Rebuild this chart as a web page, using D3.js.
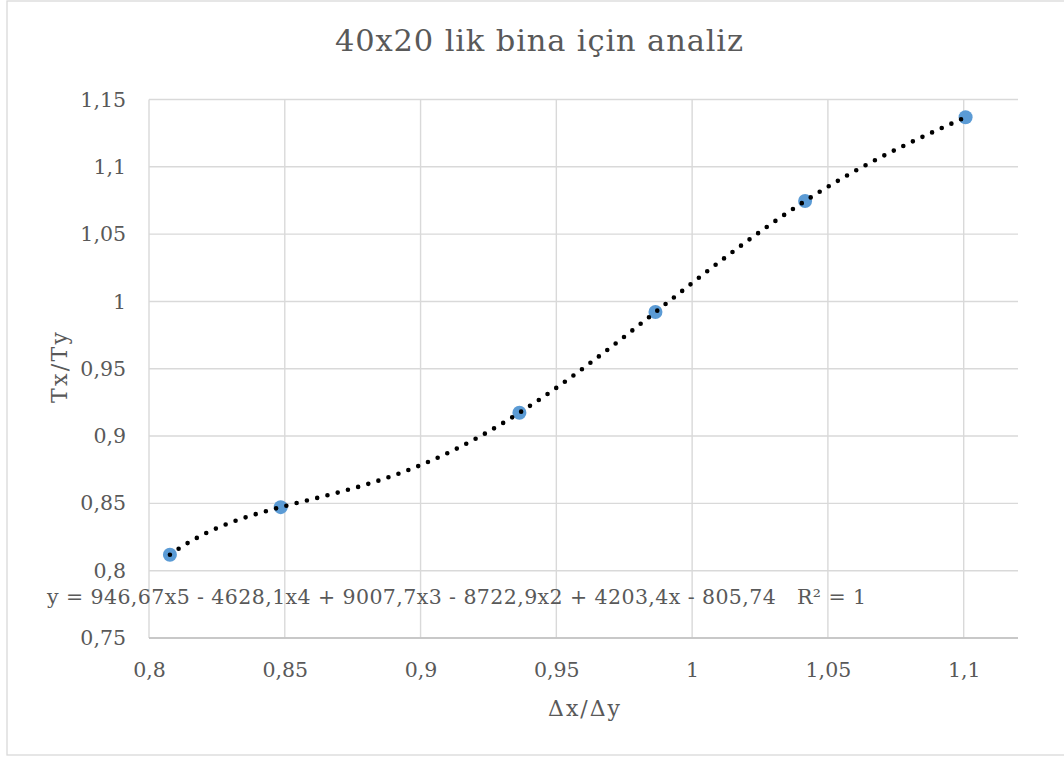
<!DOCTYPE html>
<html><head><meta charset="utf-8">
<script src="https://cdn.jsdelivr.net/npm/d3@7"></script>
<style>body{margin:0;background:#fff}svg{display:block}text{font-family:"DejaVu Serif",serif;fill:#595959}</style>
</head><body><svg id="c" width="1064" height="758"></svg>
<script>
const title = "40x20 lik bina için analiz";
const xTitle = "Δx/Δy";
const yTitle = "Tx/Ty";
const xValues = [0.8077, 0.8485, 0.9364, 0.9865, 1.0416, 1.1007];
const yValues = [0.8118, 0.8472, 0.9173, 0.9921, 1.0746, 1.1368];
const xTicks = [0.8, 0.85, 0.9, 0.95, 1, 1.05, 1.1];
const yTicks = [0.75, 0.8, 0.85, 0.9, 0.95, 1, 1.05, 1.1, 1.15];
const equation = "y = 946,67x5 - 4628,1x4 + 9007,7x3 - 8722,9x2 + 4203,4x - 805,74   R² = 1";

const svg = d3.select("#c");
const L = 149, T = 99.5, W = 869, H = 538.5;
const x = d3.scaleLinear().domain([0.8, 1.12]).range([L, L + W]);
const y = d3.scaleLinear().domain([0.75, 1.15]).range([T + H, T]);
const fmt = d => String(+d.toFixed(2)).replace(".", ",");

svg.append("rect").attr("x", 7).attr("y", 1).attr("width", 1070).attr("height", 754)
  .attr("fill", "#fff").attr("stroke", "#d9d9d9").attr("stroke-width", 1.3);

svg.append("text").attr("x", 335).attr("y", 51)
  .attr("font-size", 30.5).attr("textLength", 408).attr("lengthAdjust", "spacing").text(title);

// grid
const g = svg.append("g");
g.selectAll(".hg").data(yTicks).join("line")
  .attr("x1", L).attr("x2", L + W).attr("y1", d => y(d)).attr("y2", d => y(d))
  .attr("stroke", "#d9d9d9").attr("stroke-width", 1.4);
g.selectAll(".vg").data(xTicks).join("line")
  .attr("x1", d => x(d)).attr("x2", d => x(d)).attr("y1", T).attr("y2", T + H)
  .attr("stroke", "#d9d9d9").attr("stroke-width", 1.4);
svg.append("line").attr("x1", L).attr("x2", L + W).attr("y1", y(0.75)).attr("y2", y(0.75))
  .attr("stroke", "#bfbfbf").attr("stroke-width", 1.4);

// axes labels via d3 axes
const xa = svg.append("g").attr("transform", `translate(0,${T + H})`)
  .call(d3.axisBottom(x).tickValues(xTicks).tickFormat(fmt).tickSize(0).tickPadding(24));
const ya = svg.append("g").attr("transform", `translate(${L},0)`)
  .call(d3.axisLeft(y).tickValues(yTicks).tickFormat(fmt).tickSize(0).tickPadding(23));
[xa, ya].forEach(a => {
  a.select(".domain").remove();
  a.selectAll("text").attr("font-size", 20.5).attr("fill", "#595959").attr("font-family", "DejaVu Serif, serif");
});

svg.append("text").attr("x", 548).attr("y", 716)
  .attr("font-size", 22).attr("textLength", 72).attr("lengthAdjust", "spacing").text(xTitle);
svg.append("text").attr("transform", "translate(67,403) rotate(-90)")
  .attr("font-size", 22).attr("textLength", 71).attr("lengthAdjust", "spacing").text(yTitle);

// markers
svg.selectAll(".pt").data(xValues).join("circle")
  .attr("cx", d => x(d)).attr("cy", (d, i) => y(yValues[i])).attr("r", 7)
  .attr("fill", "#5b9bd5");

// polynomial trendline (degree 5 through the points = Lagrange)
function poly(t) {
  let s = 0;
  for (let i = 0; i < xValues.length; i++) {
    let p = yValues[i];
    for (let j = 0; j < xValues.length; j++) if (j !== i) p *= (t - xValues[j]) / (xValues[i] - xValues[j]);
    s += p;
  }
  return s;
}
const x0 = xValues[0], x1 = xValues[xValues.length - 1];
const samples = d3.range(0, 201).map(k => x0 + (x1 - x0) * k / 200);
svg.append("path").datum(samples)
  .attr("d", d3.line().x(t => x(t)).y(t => y(poly(t))))
  .attr("fill", "none").attr("stroke", "#000").attr("stroke-width", 4.6)
  .attr("stroke-linecap", "round").attr("stroke-dasharray", "0 10.6");

svg.append("text").attr("x", 47).attr("y", 604).attr("font-size", 20.5)
  .attr("xml:space", "preserve").style("white-space", "pre")
  .attr("textLength", 819).attr("lengthAdjust", "spacing").text(equation);
</script></body></html>
